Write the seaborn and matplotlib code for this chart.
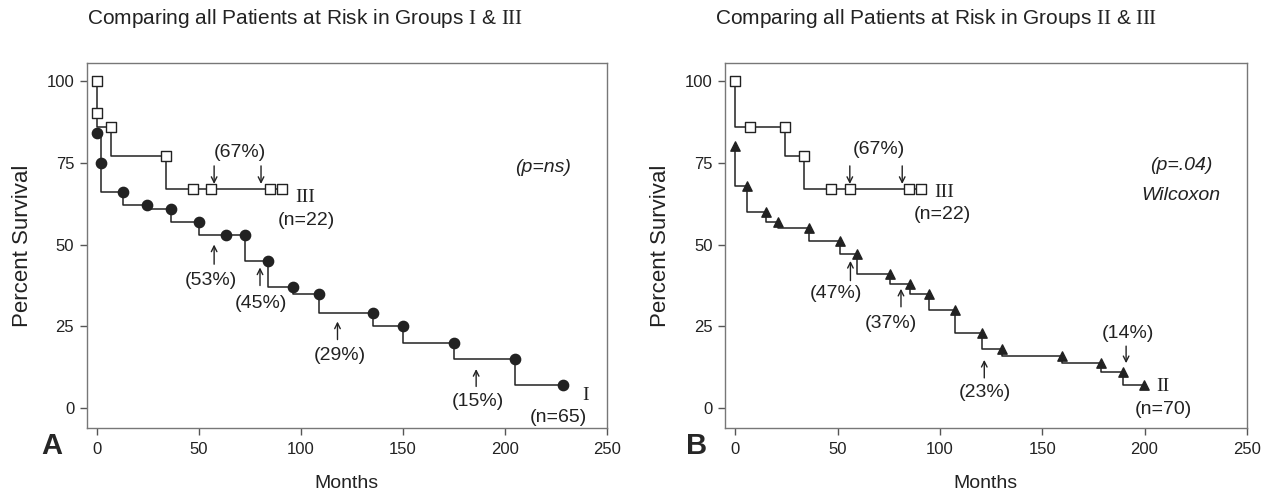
import matplotlib
matplotlib.use("Agg")
import matplotlib.pyplot as plt
import seaborn as sns
import pandas as pd

# ---------------- data ----------------
# Panel A: Group III (open squares)
a3_step_t = [0, 0, 7, 34, 91]
a3_step_s = [100, 86, 77, 67, 67]
a3_mark_t = [0, 0, 7, 34, 47, 56, 85, 91]
a3_mark_s = [100, 90, 86, 77, 67, 67, 67, 67]
# Panel A: Group I (filled circles)
a1_step_t = [0, 2, 12.6, 24.4, 36.3, 50.3, 72.4, 84, 96.4, 108.7, 135.4, 150.3, 175.2, 205, 228.8]
a1_step_s = [84, 66, 62, 61, 57, 53, 45, 37, 35, 29, 25, 20, 15, 7, 7]
a1_mark_t = [0, 2, 12.6, 24.4, 36.3, 50.3, 63.4, 72.4, 84, 96.4, 108.7, 135.4, 150.3, 175.2, 205, 228.8]
a1_mark_s = [84, 75, 66, 62, 61, 57, 53, 53, 45, 37, 35, 29, 25, 20, 15, 7]
# Panel B: Group III (open squares)
b3_step_t = [0, 0, 24.1, 33.6, 91]
b3_step_s = [100, 86, 77, 67, 67]
b3_mark_t = [0, 7.2, 24.1, 33.6, 46.9, 56, 84.8, 91]
b3_mark_s = [100, 86, 86, 77, 67, 67, 67, 67]
# Panel B: Group II (filled triangles)
b2_step_t = [0, 0, 5.9, 15, 21, 36, 51, 59.6, 75.8, 85.6, 94.6, 107.2, 120.5, 130.6, 159.6, 178.7, 189.4, 199.8]
b2_step_s = [80, 68, 60, 57, 55, 51, 47, 41, 38, 35, 30, 23, 18, 16, 14, 11, 7, 7]
b2_mark_t = [0, 5.9, 15, 21, 36, 51, 59.6, 75.8, 85.6, 94.6, 107.2, 120.5, 130.6, 159.6, 178.7, 189.4, 199.8]
b2_mark_s = [80, 68, 60, 57, 55, 51, 47, 41, 38, 35, 30, 23, 18, 16, 14, 11, 7]

# annotations: (label, text_x, text_y, arrow_x, tail_y, tip_y)
a_notes = [("(53%)", 56, 39, 57.5, 44, 50),
           ("(45%)", 80.5, 32, 80, 37.5, 43),
           ("(29%)", 119, 16, 118, 21, 26.5),
           ("(15%)", 187, 2, 186, 6.7, 12)]
a_down = [("(67%)", 70, 78, [57.5, 80.5], 74, 68.5)]
b_notes = [("(47%)", 49, 35, 56.3, 39, 45),
           ("(37%)", 76, 26, 81, 31, 36.5),
           ("(23%)", 122, 5, 121.7, 9.3, 14.8)]
b_down = [("(67%)", 70, 79, [56, 81.6], 74, 68.5),
          ("(14%)", 192, 23, [191], 19, 13.8)]

x_ticks = [0, 50, 100, 150, 200, 250]
y_ticks = [0, 25, 50, 75, 100]

# ---------------- style ----------------
sns.set_theme(style="white")
plt.rcParams['font.family'] = ['Liberation Sans', 'DejaVu Sans']
plt.rcParams['mathtext.fontset'] = 'custom'
plt.rcParams['mathtext.rm'] = 'Liberation Serif'
SERIF = ['Liberation Serif', 'DejaVu Serif']
LC = '#222222'
TC = '#222222'
FS = 14

fig = plt.figure(figsize=(12.71, 4.96), dpi=100)
axA = fig.add_axes([0.0682, 0.137, 0.4091, 0.7366])
axB = fig.add_axes([0.5704, 0.137, 0.4106, 0.7366])


def draw_steps(ax, t, s):
    df = pd.DataFrame({"t": t, "s": s})
    sns.lineplot(data=df, x="t", y="s", ax=ax, estimator=None, sort=False,
                 drawstyle="steps-post", color=LC, lw=1.1)


def draw_marks(ax, t, s, marker, face, size):
    df = pd.DataFrame({"t": t, "s": s})
    sns.scatterplot(data=df, x="t", y="s", ax=ax, marker=marker, s=size,
                    facecolor=face, edgecolor=LC, linewidth=1.0, zorder=5)


def style_axes(ax, title, letter, lx, tx):
    ax.set_xlim(-5, 250)
    ax.set_ylim(-6, 105.5)
    ax.set_xticks(x_ticks)
    ax.set_yticks(y_ticks)
    ax.tick_params(axis='both', which='major', direction='out', length=5,
                   width=1, color='#555555', labelsize=12, labelcolor=TC,
                   bottom=True, left=True, pad=4)
    ax.tick_params(axis='x', pad=5)
    for sp in ax.spines.values():
        sp.set_color('#777777')
        sp.set_linewidth(1.0)
    ax.set_xlabel("Months", fontsize=14, labelpad=13, color=TC)
    ax.set_ylabel("Percent Survival", fontsize=16, labelpad=10, color=TC)
    ax.set_title(title, fontsize=15, pad=28, color=TC, x=tx)
    fig.text(lx, 0.1, letter, fontsize=21, fontweight='bold', ha='center', va='center')


def arrow(ax, x, tail, tip):
    ax.annotate('', xy=(x, tip), xytext=(x, tail),
                arrowprops=dict(arrowstyle='->', lw=1.0, color=TC,
                                shrinkA=0, shrinkB=0, mutation_scale=10))


def notes(ax, up, down):
    for lab, tx, ty, ax_, tail, tip in up:
        ax.text(tx, ty, lab, fontsize=FS, ha='center', va='center', color=TC)
        arrow(ax, ax_, tail, tip)
    for lab, tx, ty, xs, tail, tip in down:
        ax.text(tx, ty, lab, fontsize=FS, ha='center', va='center', color=TC)
        for ax_ in xs:
            arrow(ax, ax_, tail, tip)


# Panel A
draw_steps(axA, a3_step_t, a3_step_s)
draw_steps(axA, a1_step_t, a1_step_s)
draw_marks(axA, a3_mark_t, a3_mark_s, 's', 'white', 42)
draw_marks(axA, a1_mark_t, a1_mark_s, 'o', LC, 55)
style_axes(axA, r"Comparing all Patients at Risk in Groups $\mathrm{I}$ & $\mathrm{III}$", "A", 0.041, 0.42)
notes(axA, a_notes, a_down)
axA.text(102, 64.5, "III", family=SERIF, fontsize=14, ha='center', va='center', color=TC)
axA.text(102.5, 57.3, "(n=22)", fontsize=FS, ha='center', va='center', color=TC)
axA.text(239.5, 3.8, "I", family=SERIF, fontsize=14, ha='center', va='center', color=TC)
axA.text(226.5, -2.8, "(n=65)", fontsize=FS, ha='center', va='center', color=TC)
axA.text(219, 73.5, "(p=ns)", fontsize=FS, style='italic', ha='center', va='center', color=TC)

# Panel B
draw_steps(axB, b3_step_t, b3_step_s)
draw_steps(axB, b2_step_t, b2_step_s)
draw_marks(axB, b3_mark_t, b3_mark_s, 's', 'white', 42)
draw_marks(axB, b2_mark_t, b2_mark_s, '^', LC, 45)
style_axes(axB, r"Comparing all Patients at Risk in Groups $\mathrm{II}$ & $\mathrm{III}$", "B", 0.548, 0.404)
notes(axB, b_notes, b_down)
axB.text(102, 65.8, "III", family=SERIF, fontsize=14, ha='center', va='center', color=TC)
axB.text(101, 59.3, "(n=22)", fontsize=FS, ha='center', va='center', color=TC)
axB.text(209, 6.6, "II", family=SERIF, fontsize=14, ha='center', va='center', color=TC)
axB.text(209, -0.3, "(n=70)", fontsize=FS, ha='center', va='center', color=TC)
axB.text(218, 74, "(p=.04)", fontsize=FS, style='italic', ha='center', va='center', color=TC)
axB.text(218, 65, "Wilcoxon", fontsize=FS, style='italic', ha='center', va='center', color=TC)

fig.savefig("out.png", dpi=100)
